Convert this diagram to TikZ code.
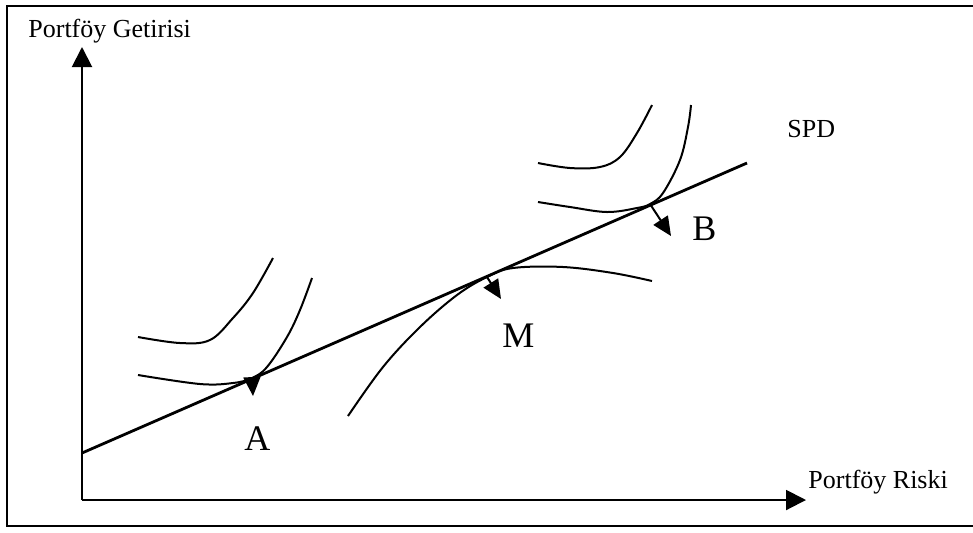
\documentclass[tikz,border=0pt]{standalone}
\usepackage{fontspec}
\setmainfont{Liberation Serif}
\usetikzlibrary{arrows.meta,positioning}

\begin{document}
\begin{tikzpicture}[x=0.5pt,y=-0.5pt,
    axis/.style={line width=1pt, -{Triangle[length=10pt,width=10pt]}},
    icurve/.style={line width=1pt, line join=round},
    tanarrow/.style={line width=1pt, -{Triangle[length=9.5pt,width=8.5pt]}},
    axlabel/.style={anchor=base west, inner sep=0pt, font=\fontsize{13}{15}\selectfont},
    ptlabel/.style={anchor=base west, inner sep=0pt, font=\fontsize{18}{20}\selectfont}]
  \useasboundingbox (0,0) rectangle (973,532);
  % frame (open on the right)
  \draw[line width=1pt] (973,6) -- (7,6) -- (7,526) -- (973,526);

  % axes
  \coordinate (O) at (82,500);
  \coordinate (ytop) at (82,47);
  \coordinate (xend) at (806,500);
  \draw[axis] (O) -- (ytop);
  \draw[axis] (O) -- (xend);
  \node[axlabel] (ylab) at (28,37) {Portföy Getirisi};
  \node[axlabel] (xlab) at (808,488) {Portföy Riski};

  % security market line
  \coordinate (s0) at (82,453);
  \coordinate (s1) at (747,163);
  \draw[line width=1.4pt] (s0) -- (s1);
  \node[axlabel] (spd) at (787,137) {SPD};

  % tangency points
  \coordinate (A) at (252,378);
  \coordinate (M) at (487,277);
  \coordinate (B) at (650,204);

  % indifference curves near A
  \draw[icurve] plot[smooth, tension=0.6] coordinates {(138,337) (180,343) (210,340) (233,318) (253,293) (273,258)};
  \draw[icurve] plot[smooth, tension=0.6] coordinates {(138,375) (200,384) (233,383) (A) (267,367) (287,337) (300,310) (312,278)};
  % curve through M
  \draw[icurve] plot[smooth, tension=0.6] coordinates {(348,416) (383,367) (420,327) (457,295) (M) (513,268) (563,267) (613,273) (652,281)};
  % curves near B
  \draw[icurve] plot[smooth, tension=0.6] coordinates {(538,163) (570,168) (600,167) (620,157) (637,133) (652,105)};
  \draw[icurve] plot[smooth, tension=0.6] coordinates {(538,202) (570,207) (607,212) (637,208) (B) (663,193) (680,160) (688,127) (691,105)};

  % arrows at the tangency points
  \coordinate (Aend) at (253,396);
  \coordinate (Mend) at (501,299);
  \coordinate (Bend) at (671,236);
  \draw[tanarrow] (A) -- (Aend);
  \draw[tanarrow] (M) -- (Mend);
  \draw[tanarrow] (B) -- (Bend);

  \node[ptlabel] (labA) at (244,450) {A};
  \node[ptlabel] (labM) at (502,347) {M};
  \node[ptlabel] (labB) at (692,240) {B};
\end{tikzpicture}
\end{document}
